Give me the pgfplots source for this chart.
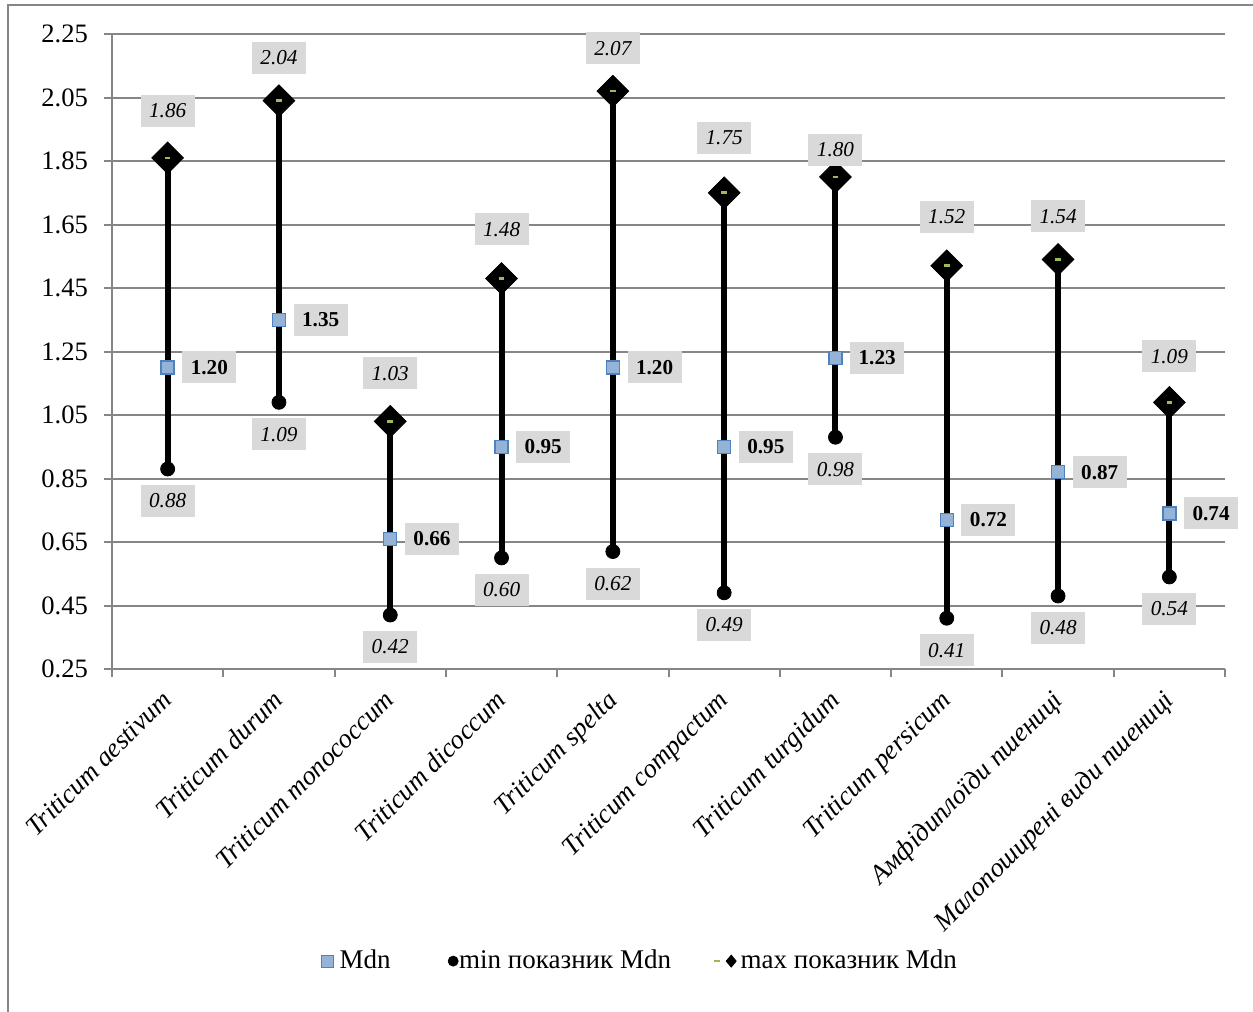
\documentclass[border=0pt]{standalone}
\usepackage{pgfplots}
\usepackage{pgfplotstable}
\pgfplotsset{compat=1.18}
\usepackage{fontspec}
\setmainfont{Liberation Serif}
\definecolor{gridc}{RGB}{134,134,134}
\definecolor{mdnfill}{RGB}{149,179,215}
\definecolor{mdnedge}{RGB}{79,129,189}
\definecolor{lblbg}{RGB}{217,217,217}
\definecolor{grn}{RGB}{155,187,89}
\pgfplotstableread{
x max dy
0 1.86 23.5
1 2.04 21.5
2 1.03 24
3 1.48 24.5
4 2.07 21.5
5 1.75 27.5
6 1.80 13.5
7 1.52 24.5
8 1.54 21.5
9 1.09 23
}\maxdata
\begin{document}
\begin{tikzpicture}
\useasboundingbox (0,0) rectangle (626.5pt,-506pt);
\draw[gridc, line width=1pt] (4pt,-506pt) -- (4pt,-2.5pt) -- (626.5pt,-2.5pt);
\begin{axis}[
 at={(56pt,-334.5pt)}, anchor=south west,
 scale only axis, width=556.5pt, height=317.5pt,
 xmin=-0.5, xmax=9.5, ymin=0.25, ymax=2.25,
 clip=false,
 axis lines*=left,
 axis line style={gridc, line width=1pt},
 ytick={0.25,0.45,0.65,0.85,1.05,1.25,1.45,1.65,1.85,2.05,2.25},
 ymajorgrids, grid style={gridc, line width=1pt},
 tick align=outside, major tick length=4pt,
 tick style={gridc, line width=1pt},
 /pgf/number format/assume math mode=true,
 yticklabel style={/pgf/number format/fixed, /pgf/number format/fixed zerofill, /pgf/number format/precision=2, font=\fontsize{13.3}{15}\selectfont, text=black, xshift=-4.5pt},
 xtick={-0.5,0.5,...,9.5}, xticklabels={},
 extra x ticks={0,1,...,9},
 extra x tick labels={Triticum aestivum, Triticum durum, Triticum monococcum, Triticum dicoccum, Triticum spelta, Triticum compactum, Triticum turgidum, Triticum persicum, Амфідиплоїди пшениці, Малопоширені види пшениці},
 extra x tick style={major tick length=0pt, xticklabel style={xshift=-3.7pt, yshift=-8.2pt, rotate=45, anchor=north east, inner sep=1pt, font=\itshape\fontsize{13.4}{15}\selectfont, text=black}},
 legend style={draw=none, fill=none, at={(axis description cs:0.4753,-0.46)}, anchor=center, font=\fontsize{13.5}{15}\selectfont, /tikz/every even column/.append style={column sep=19pt}},
 legend columns=3,
]
% high-low lines
\addplot[black, line width=3pt, unbounded coords=jump, forget plot] coordinates {
 (0,0.88) (0,1.86) (0,nan)
 (1,1.09) (1,2.04) (1,nan)
 (2,0.42) (2,1.03) (2,nan)
 (3,0.60) (3,1.48) (3,nan)
 (4,0.62) (4,2.07) (4,nan)
 (5,0.49) (5,1.75) (5,nan)
 (6,0.98) (6,1.80) (6,nan)
 (7,0.41) (7,1.52) (7,nan)
 (8,0.48) (8,1.54) (8,nan)
 (9,0.54) (9,1.09)
};
% min
\addplot[only marks, mark=*, mark size=3.5pt, black, forget plot,
 nodes near coords={\pgfmathprintnumber[fixed,fixed zerofill,precision=2]{\pgfplotspointmeta}},
 every node near coord/.append style={anchor=center, yshift=-16pt, fill=lblbg, inner sep=0pt, minimum width=27pt, minimum height=16pt, font=\itshape\fontsize{10.6}{12}\selectfont, text=black}
] coordinates {(0,0.88) (1,1.09) (2,0.42) (3,0.60) (4,0.62) (5,0.49) (6,0.98) (7,0.41) (8,0.48) (9,0.54)};
% max
\addplot[only marks, mark=square*, mark size=5.6pt, mark options={rotate=45, fill=black, draw=black}, black, forget plot,
 visualization depends on={\thisrow{dy} \as \dyval},
 nodes near coords={\pgfmathprintnumber[fixed,fixed zerofill,precision=2]{\pgfplotspointmeta}},
 every node near coord/.append style={anchor=center, yshift=\dyval pt, fill=lblbg, inner sep=0pt, minimum width=27pt, minimum height=16pt, font=\itshape\fontsize{10.6}{12}\selectfont, text=black, rotate=0}
] table[x=x, y=max] {\maxdata};
\addplot[only marks, mark=-, mark size=1.4pt, mark options={grn, line width=1.3pt}, forget plot]
 table[x=x, y=max] {\maxdata};
% Mdn
\addplot[only marks, mark=square*, mark size=3.25pt, mark options={fill=mdnfill, draw=mdnedge, line width=0.7pt}, forget plot,
 nodes near coords={\pgfmathprintnumber[fixed,fixed zerofill,precision=2]{\pgfplotspointmeta}},
 every node near coord/.append style={anchor=west, xshift=7pt, yshift=0pt, fill=lblbg, inner sep=0pt, minimum width=27pt, minimum height=16pt, font=\bfseries\fontsize{10.6}{12}\selectfont, text=black}
] coordinates {(0,1.20) (1,1.35) (2,0.66) (3,0.95) (4,1.20) (5,0.95) (6,1.23) (7,0.72) (8,0.87) (9,0.74)};
% legend
\addlegendimage{legend image code/.code={\draw[fill=mdnfill, draw=mdnedge, line width=0.6pt] (0pt,-3pt) rectangle (6pt,3pt); \path[draw=none, fill=none] (7pt,0pt);}}
\addlegendentry{Mdn}
\addlegendimage{legend image code/.code={\path[draw=none, fill=none] (-7.25pt,-2.5pt) rectangle (4pt,2.5pt); \fill[black, overlay] (3pt,0pt) circle (2.5pt);}}
\addlegendentry{min показник Mdn}
\addlegendimage{legend image code/.code={\draw[grn, line width=1.2pt] (0pt,0pt) -- (3pt,0pt); \fill[black] (8.5pt,3pt) -- (11pt,0pt) -- (8.5pt,-3pt) -- (6pt,0pt) -- cycle;}}
\addlegendentry{max показник Mdn}
\end{axis}
\end{tikzpicture}
\end{document}
